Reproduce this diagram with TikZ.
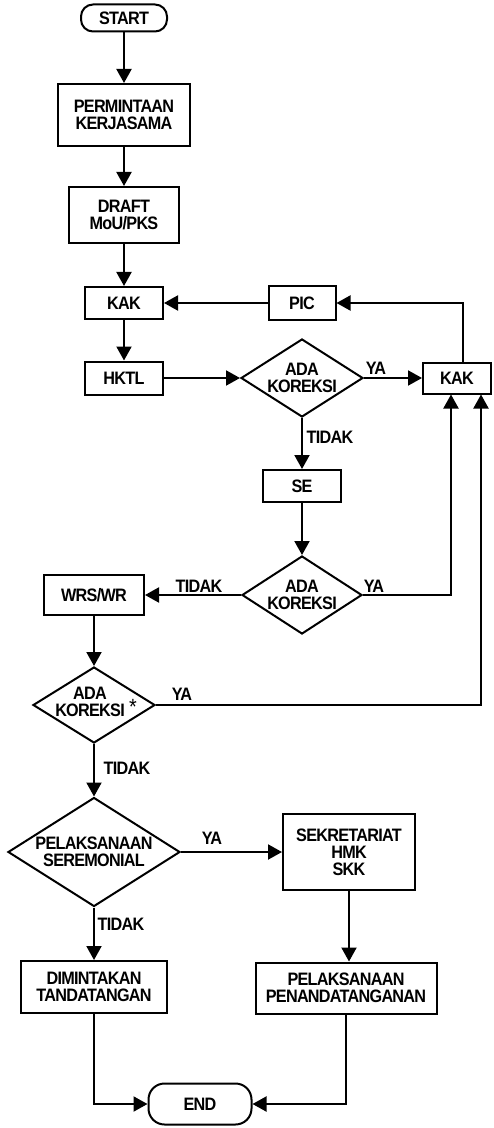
\documentclass[tikz,border=0pt]{standalone}
\usepackage{fontspec}
\setmainfont{Liberation Sans}[FakeStretch=0.9, LetterSpace=-4]
\usetikzlibrary{shapes.geometric, arrows.meta}

\begin{document}
\begin{tikzpicture}[x=0.5pt, y=-0.5pt, line width=1pt,
	font=\fontsize{9}{8.5}\selectfont\bfseries,
	box/.style={draw, rectangle, inner sep=0pt, align=center},
	term/.style={draw, rectangle, rounded corners=6pt, inner sep=0pt},
	decision/.style={draw, diamond, inner sep=0pt},
	txt/.style={inner sep=0pt, align=center},
	arr/.style={-{Triangle[length=7pt, width=7.5pt]}}]
	\useasboundingbox (0,0) rectangle (493,1128);
	% main column
	\node[term, minimum width=43pt, minimum height=13.5pt] (start) at (124,18) {START};
	\node[box, minimum width=66pt, minimum height=31pt] (perm) at (124,115) {PERMINTAAN\\KERJASAMA};
	\node[box, minimum width=55pt, minimum height=28pt] (draft) at (124,215) {DRAFT\\MoU/PKS};
	\node[box, minimum width=39pt, minimum height=16pt] (kak1) at (124,303) {KAK};
	\node[box, minimum width=39pt, minimum height=16.5pt] (hktl) at (124,378) {HKTL};
	\node[box, minimum width=33.5pt, minimum height=17pt] (pic) at (302,303) {PIC};
	\node[box, minimum width=34pt, minimum height=15.5pt] (kak2) at (457,378) {KAK};
	% first check
	\node[decision, minimum width=61pt, minimum height=39pt] (d1) at (302,378) {};
	\node[txt] (d1t) at (d1) {ADA\\KOREKSI};
	\node[box, minimum width=39pt, minimum height=16pt] (se) at (302,486) {SE};
	\node[decision, minimum width=60pt, minimum height=39pt] (d2) at (302,595) {};
	\node[txt] (d2t) at (d2) {ADA\\KOREKSI};
	\node[box, minimum width=50pt, minimum height=20pt] (wrs) at (94,595) {WRS/WR};
	\node[decision, minimum width=61pt, minimum height=38pt] (d3) at (94,705) {};
	\node[txt] (d3t) at (90,702) {ADA\\KOREKSI};
	\node[txt, font=\fontsize{11}{11}\selectfont\mdseries] (ast) at (133,707) {*};
	% ceremony
	\node[decision, minimum width=86pt, minimum height=54.5pt] (d4) at (94,852) {};
	\node[txt] (d4t) at (d4) {PELAKSANAAN\\SEREMONIAL};
	\node[box, minimum width=66pt, minimum height=38pt] (sek) at (349,852) {SEKRETARIAT\\HMK\\SKK};
	\node[box, minimum width=73pt, minimum height=26pt] (dim) at (94,987) {DIMINTAKAN\\TANDATANGAN};
	\node[box, minimum width=90.5pt, minimum height=25.5pt] (pen) at (346,988) {PELAKSANAAN\\PENANDATANGANAN};
	\node[term, rounded corners=8pt, minimum width=51.5pt, minimum height=20.5pt] (end) at (200,1104) {END};
	% labels
	\node[txt] (ya1) at (376,368) {YA};
	\node[txt] (tidak1) at (330,437) {TIDAK};
	\node[txt] (ya2) at (374,586) {YA};
	\node[txt] (tidak2) at (199,586) {TIDAK};
	\node[txt] (ya3) at (182,694) {YA};
	\node[txt] (tidak3) at (127,768) {TIDAK};
	\node[txt] (ya4) at (212,838) {YA};
	\node[txt] (tidak4) at (121,924) {TIDAK};
	% connectors
	\draw[arr] (start) -- (perm);
	\draw[arr] (perm) -- (draft);
	\draw[arr] (draft) -- (kak1);
	\draw[arr] (kak1) -- (hktl);
	\draw[arr] (hktl) -- (d1);
	\draw[arr] (d1) -- (kak2);
	\draw[arr] ([xshift=3pt]kak2.north) |- (pic);
	\draw[arr] (pic) -- (kak1);
	\draw[arr] (d1) -- (se);
	\draw[arr] (se) -- (d2);
	\draw[arr] (d2) -| ([xshift=-3pt]kak2.south);
	\draw[arr] (d2) -- (wrs);
	\draw[arr] (wrs) -- (d3);
	\draw[arr] (d3) -| ([xshift=12pt]kak2.south);
	\draw[arr] (d3) -- (d4);
	\draw[arr] (d4) -- (sek);
	\draw[arr] (d4) -- (dim);
	\draw[arr] (sek.south) -- (sek.south |- pen.north);
	\draw[arr] (dim.south) |- (end);
	\draw[arr] (pen.south) |- (end);
\end{tikzpicture}
\end{document}
